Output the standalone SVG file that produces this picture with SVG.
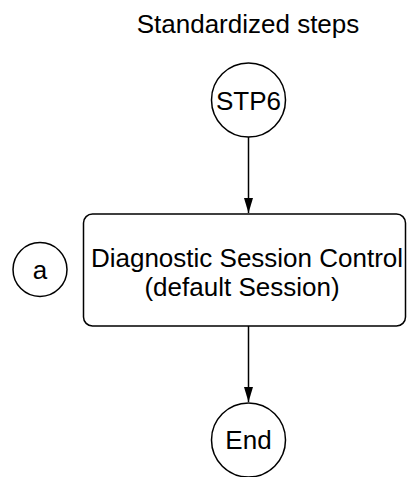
<svg xmlns="http://www.w3.org/2000/svg" width="407" height="477" viewBox="0 0 407 477">
<style>
text{font-family:"Liberation Sans",Arial,sans-serif;font-size:26px;fill:#000;text-anchor:middle}
.shape{fill:#fff;stroke:#000;stroke-width:1.5}
.conn{stroke:#000;stroke-width:1.5;fill:none}
</style>
<defs>
<marker id="arr" markerWidth="16" markerHeight="10" refX="15" refY="4.5" orient="auto" markerUnits="userSpaceOnUse">
<path d="M0,0 L15,4.5 L0,9 Z" fill="#000"/>
</marker>
</defs>
<rect width="407" height="477" fill="#fff"/>
<text x="248" y="33">Standardized steps</text>
<g id="connectors">
<line class="conn" x1="248.5" y1="137" x2="248.5" y2="213" marker-end="url(#arr)"/>
<line class="conn" x1="248.5" y1="326" x2="248.5" y2="402" marker-end="url(#arr)"/>
</g>
<g id="stp6">
<circle class="shape" cx="248.5" cy="100" r="37"/>
<text x="248.5" y="110">STP6</text>
</g>
<g id="dsc">
<rect class="shape" x="83.5" y="214" width="322" height="112" rx="9"/>
<text x="247" y="267">Diagnostic Session Control</text>
<text x="242" y="296">(default Session)</text>
</g>
<g id="end">
<circle class="shape" cx="248.5" cy="440" r="37"/>
<text x="248.5" y="449">End</text>
</g>
<g id="a">
<circle class="shape" cx="40" cy="269.5" r="27"/>
<text x="40" y="279">a</text>
</g>
</svg>
